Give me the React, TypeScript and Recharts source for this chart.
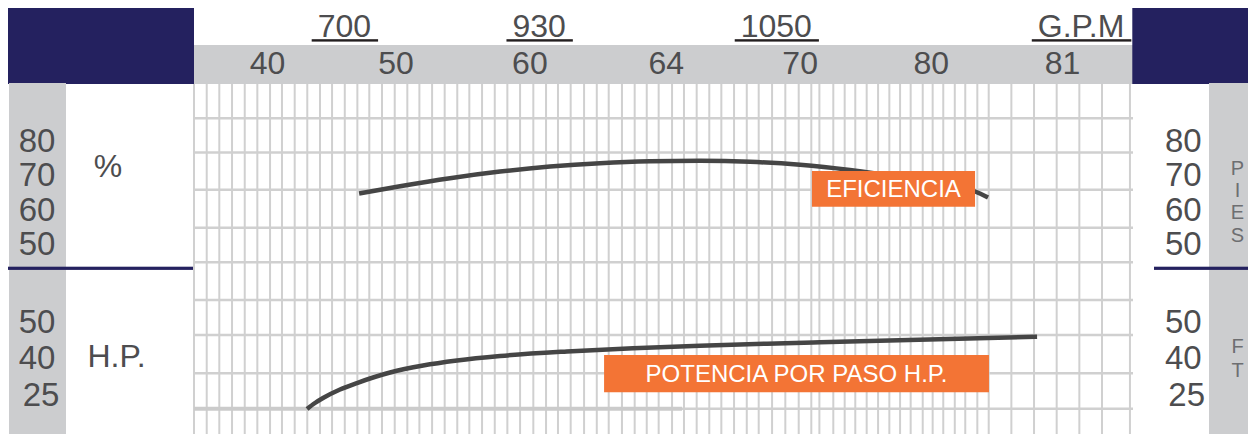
// Pump performance sheet: efficiency (%) and power per stage (H.P.) against flow.
import { useLayoutEffect, useRef, useState } from "react";
import { ComposedChart, Line, XAxis, YAxis, ReferenceLine, ReferenceArea } from "recharts";

const FONT = '"Liberation Sans", Arial, sans-serif';
const NAVY = "#24215f";
const PANEL = "#cccdcf";
const INK = "#4d4d4f";
const CURVE = "#454545";
const ORANGE = "#f37435";
const GRID = "#d0d0d0";

// flow axis: header labels 40..81 sit at positions 0..6
const flowLabels = ["40", "50", "60", "64", "70", "80", "81"];
const flowTicks = [0, 0.97, 1.98, 3.01, 4.02, 5.01, 6.0];
const gpmLabels = ["700", "930", "1050", "G.P.M"];
const gpmTicks = [0.58, 2.05, 3.84, 6.14];
const flowDomain = [-0.555, 6.532];

// the printed grid is not even, so its lines are listed as read
const gridX = [
  -0.555, -0.459, -0.364, -0.268, -0.172, -0.077, 0.019, 0.109, 0.205, 0.3,
  0.396, 0.487, 0.583, 0.678, 0.768, 0.864, 0.96, 1.055, 1.146, 1.242,
  1.337, 1.432, 1.523, 1.619, 1.715, 1.81, 1.906, 2.006, 2.102, 2.192,
  2.288, 2.389, 2.485, 2.575, 2.675, 2.771, 2.862, 2.952, 3.053, 3.143,
  3.239, 3.334, 3.425, 3.521, 3.617, 3.707, 3.808, 3.908, 4.009, 4.104,
  4.165, 4.27, 4.356, 4.436, 4.522, 4.608, 4.693, 4.774, 4.854, 4.945,
  5.02, 5.1, 5.187, 5.266, 5.357, 5.443, 5.614, 5.785, 5.956, 6.127,
  6.298, 6.509,
];
const gridHp = [25, 34.75, 45.3, 54.94, 65.33, 74.86, 85.33, 95.58, 105];
const hpBaseEnd = 3.128;

const effFlow = [0.691, 1.0, 1.377, 1.755, 2.132, 2.509, 2.887, 3.264, 3.642, 4.019, 4.396, 4.774, 5.151, 5.34, 5.438];
const effPct = [69.41, 71.45, 73.69, 75.53, 76.93, 77.88, 78.41, 78.55, 78.27, 77.43, 75.98, 74.02, 71.65, 69.97, 68.3];
const hpFlow = [0.298, 0.358, 0.419, 0.547, 0.675, 0.925, 1.174, 1.43, 1.755, 2.26, 2.758, 3.264, 3.77, 4.17, 5.808];
const hpValue = [24.92, 26.57, 27.95, 30.29, 32.08, 34.97, 36.9, 38.28, 39.52, 40.76, 41.64, 42.33, 42.91, 43.32, 44.83];

const pctLabels = ["80", "70", "60", "50"];
const hpLabels = ["50", "40", "25"];
const piesLetters = ["P", "I", "E", "S"];
const ftLetters = ["F", "T"];

const effData = effFlow.map((flow, i) => ({ flow, eff: effPct[i] }));
const hpData = hpFlow.map((flow, i) => ({ flow, hp: hpValue[i] }));

function FlowTick({ x, payload }: any) {
  const label = flowLabels[flowTicks.indexOf(payload.value)];
  return (
    <text x={x} y={67} textAnchor="middle" fontSize={32} fill={INK} fontFamily={FONT}>
      {label}
    </text>
  );
}

function GpmTick({ x, payload }: any) {
  const label = gpmLabels[gpmTicks.indexOf(payload.value)];
  const ref = useRef<SVGTextElement>(null);
  const [w, setW] = useState(0);
  useLayoutEffect(() => {
    if (ref.current) setW(ref.current.getComputedTextLength());
  }, [label]);
  return (
    <g>
      <text ref={ref} x={x} y={30.3} textAnchor="middle" fontSize={32} fill={INK} fontFamily={FONT}>
        {label}
      </text>
      {w > 0 && <rect x={x - w / 2 - 6} y={32.2} width={w + 13} height={2.4} fill="#231f20" />}
    </g>
  );
}

function Frame() {
  return (
    <svg width={1248} height={435} style={{ position: "absolute", left: 0, top: 0 }}>
      <rect x={0} y={0} width={186} height={77} fill={NAVY} />
      <rect x={186} y={38} width={939} height={39} fill={PANEL} />
      <rect x={1124.3} y={0} width={123.7} height={77} fill={NAVY} />
      <rect x={1} y={76} width={57} height={359} fill={PANEL} />
      <rect x={1201} y={76} width={47} height={359} fill={PANEL} />
      <rect x={0} y={259.7} width={186} height={3.2} fill={NAVY} />
      <rect x={1146} y={259.7} width={102} height={3.2} fill={NAVY} />
      <g fontFamily={FONT} fontSize={33} fill={INK} textAnchor="middle">
        {pctLabels.map((t, i) => (
          <text key={"l" + t} x={29} y={145 + i * 34.4}>{t}</text>
        ))}
        {hpLabels.map((t, i) => (
          <text key={"lh" + t} x={t === "25" ? 33 : 29} y={325.7 + i * 36.6}>{t}</text>
        ))}
        {pctLabels.map((t, i) => (
          <text key={"r" + t} x={1175.3} y={145 + i * 34.4}>{t}</text>
        ))}
        {hpLabels.map((t, i) => (
          <text key={"rh" + t} x={t === "25" ? 1178.7 : 1175.3} y={325.7 + i * 36.6}>{t}</text>
        ))}
        <text x={100} y={169.7} fontSize={32}>%</text>
      </g>
      <text x={79.5} y={360} fontSize={32} fill={INK} fontFamily={FONT}>H.P.</text>
      <g fontFamily={FONT} fontSize={20} fill="#6d6e71" textAnchor="middle">
        {piesLetters.map((t, i) => (
          <text key={"p" + i} x={1229.5} y={168 + i * 22.2}>{t}</text>
        ))}
        {ftLetters.map((t, i) => (
          <text key={"f" + i} x={1229.5} y={346.3 + i * 23.4}>{t}</text>
        ))}
      </g>
    </svg>
  );
}

export default function App() {
  return (
    <div style={{ position: "relative", width: 1248, height: 435, marginTop: -1, marginBottom: -8 }}>
      <Frame />
      <div style={{ position: "absolute", left: 0, top: 0 }}>
        <ComposedChart width={1248} height={435} margin={{ top: 75, right: 123, bottom: 0, left: 186 }}>
          <XAxis
            xAxisId="flow"
            type="number"
            dataKey="flow"
            orientation="top"
            domain={flowDomain}
            allowDataOverflow
            ticks={flowTicks}
            interval={0}
            height={1}
            axisLine={false}
            tickLine={false}
            tickSize={0}
            tickMargin={0}
            tick={<FlowTick />}
          />
          <XAxis
            xAxisId="gpm"
            type="number"
            dataKey="flow"
            orientation="top"
            domain={flowDomain}
            allowDataOverflow
            ticks={gpmTicks}
            interval={0}
            height={1}
            axisLine={false}
            tickLine={false}
            tickSize={0}
            tickMargin={0}
            tick={<GpmTick />}
          />
          <YAxis yAxisId="hp" type="number" hide domain={[15.83, 114.45]} allowDataOverflow />
          <YAxis yAxisId="eff" type="number" hide domain={[0, 100]} allowDataOverflow />

          {gridX.map((v) => (
            <ReferenceLine key={"gx" + v} xAxisId="flow" yAxisId="hp" x={v} stroke={GRID} strokeWidth={2} zIndex={100} />
          ))}
          {gridHp.map((v) => (
            <ReferenceLine key={"gy" + v} xAxisId="flow" yAxisId="hp" y={v} stroke={GRID} strokeWidth={2.5} zIndex={100} />
          ))}
          <ReferenceLine
            xAxisId="flow"
            yAxisId="hp"
            segment={[{ x: flowDomain[0], y: 25 }, { x: hpBaseEnd, y: 25 }]}
            stroke="#cbcbcb"
            strokeWidth={4}
            zIndex={150}
          />

          <Line
            xAxisId="flow"
            yAxisId="eff"
            data={effData}
            dataKey="eff"
            type="monotone"
            stroke={CURVE}
            strokeWidth={4.5}
            dot={false}
            activeDot={false}
            isAnimationActive={false}
            zIndex={400}
          />
          <Line
            xAxisId="flow"
            yAxisId="hp"
            data={hpData}
            dataKey="hp"
            type="monotone"
            stroke={CURVE}
            strokeWidth={4.5}
            dot={false}
            activeDot={false}
            isAnimationActive={false}
            zIndex={400}
          />

          <ReferenceArea
            xAxisId="flow"
            yAxisId="eff"
            x1={4.109}
            x2={5.34}
            y1={65.7}
            y2={75.7}
            fill={ORANGE}
            fillOpacity={1}
            stroke="none"
            zIndex={600}
            label={{ value: "EFICIENCIA", position: "center", fill: "#ffffff", fontSize: 24, fontFamily: FONT }}
          />
          <ReferenceArea
            xAxisId="flow"
            yAxisId="hp"
            x1={2.54}
            x2={5.445}
            y1={29.52}
            y2={39.79}
            fill={ORANGE}
            fillOpacity={1}
            stroke="none"
            zIndex={600}
            label={{ value: "POTENCIA POR PASO H.P.", position: "center", fill: "#ffffff", fontSize: 24, fontFamily: FONT }}
          />
        </ComposedChart>
      </div>
    </div>
  );
}
